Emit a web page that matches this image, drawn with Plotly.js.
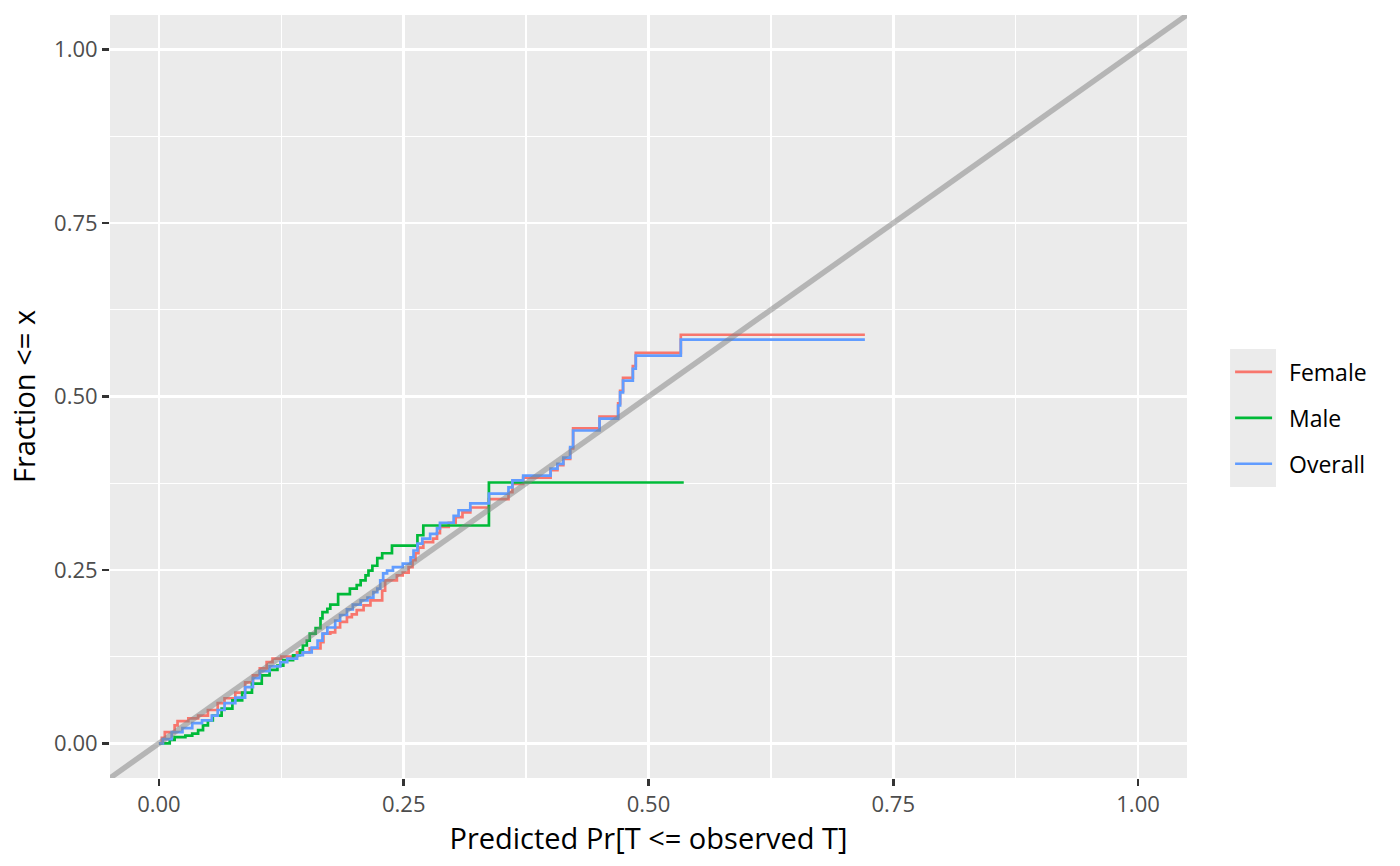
<!DOCTYPE html>
<html>
<head>
<meta charset="utf-8">
<script src="https://cdn.plot.ly/plotly-3.0.1.min.js"></script>
<style>
  body { margin: 0; background: #fff; }
  #chart { width: 1400px; height: 866px; }
</style>
</head>
<body>
<div id="chart"></div>
<script>
// calibration curves: predicted probability vs observed fraction
const femaleX = [0, 0.003, 0.006, 0.016, 0.019, 0.030, 0.040, 0.050, 0.060, 0.067, 0.078, 0.088, 0.096, 0.103, 0.110, 0.116, 0.125, 0.141, 0.154, 0.165, 0.168, 0.175, 0.180, 0.185, 0.192, 0.197, 0.202, 0.209, 0.216, 0.228, 0.231, 0.243, 0.249, 0.255, 0.259, 0.262, 0.265, 0.270, 0.280, 0.284, 0.287, 0.296, 0.303, 0.310, 0.318, 0.337, 0.357, 0.361, 0.372, 0.400, 0.407, 0.413, 0.420, 0.423, 0.450, 0.469, 0.471, 0.474, 0.484, 0.487, 0.533, 0.721];
const femaleY = [0, 0.008, 0.016, 0.026, 0.032, 0.036, 0.040, 0.048, 0.058, 0.065, 0.073, 0.088, 0.098, 0.108, 0.117, 0.122, 0.125, 0.131, 0.137, 0.146, 0.158, 0.160, 0.167, 0.175, 0.182, 0.186, 0.192, 0.199, 0.206, 0.220, 0.235, 0.242, 0.246, 0.254, 0.264, 0.274, 0.282, 0.290, 0.295, 0.303, 0.312, 0.318, 0.326, 0.333, 0.340, 0.352, 0.362, 0.374, 0.383, 0.394, 0.401, 0.410, 0.425, 0.454, 0.471, 0.490, 0.508, 0.527, 0.544, 0.563, 0.589, 0.589];

const maleX = [0, 0.011, 0.016, 0.027, 0.034, 0.040, 0.045, 0.050, 0.055, 0.064, 0.075, 0.085, 0.095, 0.105, 0.113, 0.121, 0.127, 0.137, 0.144, 0.147, 0.151, 0.154, 0.160, 0.165, 0.167, 0.172, 0.175, 0.183, 0.195, 0.202, 0.206, 0.211, 0.214, 0.218, 0.223, 0.228, 0.238, 0.264, 0.270, 0.337, 0.536];
const maleY = [0, 0.005, 0.009, 0.011, 0.014, 0.019, 0.026, 0.033, 0.040, 0.050, 0.062, 0.073, 0.086, 0.098, 0.106, 0.112, 0.120, 0.127, 0.134, 0.141, 0.148, 0.158, 0.166, 0.180, 0.189, 0.194, 0.200, 0.215, 0.223, 0.228, 0.235, 0.242, 0.249, 0.256, 0.267, 0.274, 0.285, 0.300, 0.314, 0.376, 0.376];

const overallX = [0, 0.004, 0.013, 0.024, 0.034, 0.044, 0.054, 0.060, 0.067, 0.078, 0.088, 0.096, 0.103, 0.113, 0.124, 0.131, 0.141, 0.147, 0.156, 0.162, 0.167, 0.172, 0.180, 0.185, 0.192, 0.198, 0.206, 0.213, 0.219, 0.223, 0.226, 0.229, 0.233, 0.239, 0.249, 0.257, 0.260, 0.264, 0.269, 0.277, 0.284, 0.287, 0.301, 0.306, 0.318, 0.337, 0.357, 0.361, 0.372, 0.400, 0.407, 0.413, 0.420, 0.423, 0.450, 0.469, 0.471, 0.474, 0.484, 0.487, 0.533, 0.721];
const overallY = [0, 0.006, 0.016, 0.022, 0.029, 0.033, 0.040, 0.048, 0.058, 0.066, 0.081, 0.094, 0.104, 0.111, 0.117, 0.122, 0.127, 0.131, 0.138, 0.148, 0.158, 0.167, 0.177, 0.185, 0.193, 0.200, 0.206, 0.210, 0.218, 0.223, 0.235, 0.245, 0.249, 0.254, 0.259, 0.268, 0.278, 0.288, 0.295, 0.302, 0.310, 0.318, 0.328, 0.336, 0.346, 0.360, 0.369, 0.379, 0.386, 0.396, 0.403, 0.412, 0.427, 0.451, 0.468, 0.487, 0.506, 0.523, 0.540, 0.559, 0.582, 0.582];

// y = x reference line
const refLine = [-0.1, 1.1];

const groups = ["Female", "Male", "Overall"];
const colors = ["#F8766D", "#00BA38", "#619CFF"];
const xs = [femaleX, maleX, overallX];
const ys = [femaleY, maleY, overallY];

const tickVals = [0, 0.25, 0.5, 0.75, 1];
const tickText = ["0.00", "0.25", "0.50", "0.75", "1.00"];

let data = [];
for (let i = 0; i < groups.length; i++) {
  data.push({
    x: xs[i],
    y: ys[i],
    type: "scatter",
    mode: "lines",
    // two no-break spaces push the label away from the key like ggplot does
    name: "\u00A0\u00A0" + groups[i],
    legendgroup: groups[i],
    line: { color: colors[i], width: 2.7, shape: "hv" },
    hoverinfo: "skip"
  });
}
data.push({
  x: refLine,
  y: refLine,
  type: "scatter",
  mode: "lines",
  showlegend: false,
  line: { color: "rgba(127,127,127,0.5)", width: 5.5 },
  hoverinfo: "skip"
});

const axisBase = {
  range: [-0.05, 1.05],
  tickvals: tickVals,
  ticktext: tickText,
  ticks: "outside",
  ticklen: 7,
  tickwidth: 2.5,
  tickcolor: "#333333",
  tickfont: { family: "Open Sans", size: 22, color: "#4D4D4D" },
  showgrid: true,
  gridcolor: "#FFFFFF",
  gridwidth: 2.8,
  zeroline: false,
  showline: false,
  minor: { tick0: 0.125, dtick: 0.25, showgrid: true, gridcolor: "#FFFFFF", gridwidth: 1.4, ticks: "" }
};

const layout = {
  width: 1400,
  height: 866,
  margin: { l: 110, r: 213, t: 15, b: 88 },
  paper_bgcolor: "#FFFFFF",
  plot_bgcolor: "#EBEBEB",
  font: { family: "Open Sans", color: "#000000" },
  xaxis: Object.assign({}, axisBase, {
    title: { text: "Predicted Pr[T <= observed T]", font: { size: 29, color: "#000000" }, standoff: 1 }
  }),
  yaxis: Object.assign({}, axisBase, {
    title: { text: "Fraction <= x", font: { size: 29, color: "#000000" }, standoff: 9 }
  }),
  legend: {
    x: 1.040,
    xanchor: "left",
    y: 0.4718,
    yanchor: "middle",
    bgcolor: "rgba(0,0,0,0)",
    font: { family: "Open Sans", size: 23, color: "#000000" },
    itemwidth: 37,
    traceorder: "grouped",
    tracegroupgap: 13
  },
  shapes: [{
    type: "rect",
    xref: "paper", yref: "paper",
    x0: 1.040, x1: 1.0826, y0: 0.3814, y1: 0.5623,
    fillcolor: "#EBEBEB",
    line: { width: 0 },
    layer: "below"
  }]
};

Plotly.newPlot("chart", data, layout, { displayModeBar: false, staticPlot: true });
</script>
</body>
</html>
